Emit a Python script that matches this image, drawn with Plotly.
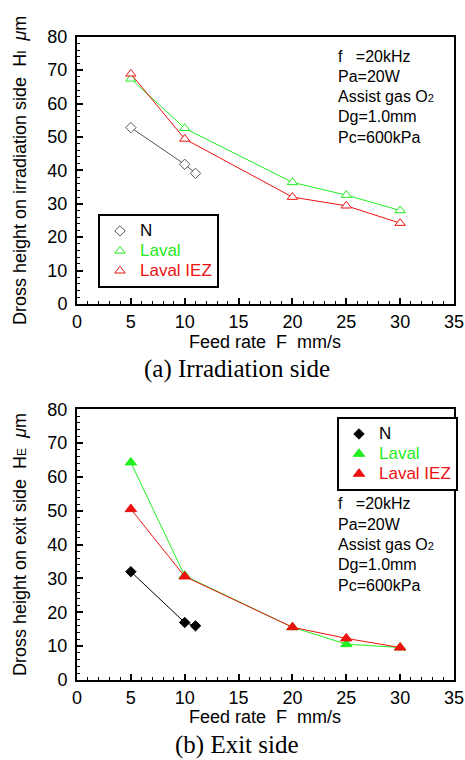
import plotly.graph_objects as go

W, H = 465, 760

# ---- data ----
feed_N = [5, 10, 11]
feed_L = [5, 10, 20, 25, 30]

irr_N = [52.8, 41.8, 39.1]
irr_Laval = [67.4, 52.6, 36.4, 32.6, 28.0]
irr_LavalIEZ = [68.9, 49.4, 32.0, 29.4, 24.2]

exit_N = [32.0, 17.0, 16.0]
exit_Laval = [64.3, 30.8, 15.6, 10.6, 9.6]
exit_LavalIEZ = [50.5, 30.6, 15.6, 12.3, 9.6]

series_names = ["N", "Laval", "Laval IEZ"]
x_ticks = [0, 5, 10, 15, 20, 25, 30, 35]
y_ticks = [0, 10, 20, 30, 40, 50, 60, 70, 80]

cond_lines = ["f\u00a0\u00a0\u00a0=20kHz", "Pa=20W",
              "Assist gas O<span style='font-size:11px'>2</span>",
              "Dg=1.0mm", "Pc=600kPa"]

C_G = "#22ee22"
C_R = "#ee1111"


def px(x):
    return x / W


def py(y):
    return 1 - y / H


fig = go.Figure()


def add_series(xs, ys, color, name, symbol, size, filled, xa, ya, legend, txtcolor):
    fig.add_trace(go.Scatter(x=xs, y=ys, mode="lines", line=dict(color=color, width=1),
                             xaxis=xa, yaxis=ya, showlegend=False, hoverinfo="skip"))
    fig.add_trace(go.Scatter(
        x=xs, y=ys, mode="markers", xaxis=xa, yaxis=ya, legend=legend,
        name=f"<span style='color:{txtcolor};font-size:17px'>{name}</span>",
        marker=dict(symbol=symbol, size=size,
                    color=color if filled else "white",
                    line=dict(color=color, width=1))))


# plot (a) open markers
add_series(feed_N, irr_N, "#555555", series_names[0], "diamond", 8, False, "x", "y", "legend", "#000")
add_series(feed_L, irr_Laval, C_G, series_names[1], "triangle-up", 9, False, "x", "y", "legend", C_G)
add_series(feed_L, irr_LavalIEZ, C_R, series_names[2], "triangle-up", 9, False, "x", "y", "legend", C_R)

# plot (b) filled markers
add_series(feed_N, exit_N, "#000000", series_names[0], "diamond", 8, True, "x2", "y2", "legend2", "#000")
add_series(feed_L, exit_Laval, C_G, series_names[1], "triangle-up", 10, True, "x2", "y2", "legend2", C_G)
add_series(feed_L, exit_LavalIEZ, C_R, series_names[2], "triangle-up", 10, True, "x2", "y2", "legend2", C_R)

font_tick = dict(family="Liberation Sans, Arial", size=18, color="black")

xdom = [px(77), px(454)]
common_x = dict(range=[0, 35], tickvals=x_ticks, ticks="inside", ticklen=6, tickwidth=1.5,
                tickcolor="black", showline=True, linecolor="black", linewidth=2, mirror=True,
                showgrid=False, zeroline=False, tickfont=font_tick, automargin=False,
                minor=dict(dtick=1, ticks="inside", ticklen=3, tickcolor="black", tickwidth=1))
common_y = dict(range=[0, 80], tickvals=y_ticks, ticks="inside", ticklen=6, tickwidth=1.5,
                tickcolor="black", showline=True, linecolor="black", linewidth=2, mirror=True,
                showgrid=False, zeroline=False, tickfont=font_tick, ticklabelstandoff=4,
                automargin=False,
                minor=dict(dtick=2, ticks="inside", ticklen=3, tickcolor="black", tickwidth=1))

legend_common = dict(font=dict(family="Liberation Sans, Arial", size=13, color="black"),
                     bordercolor="black", borderwidth=2, bgcolor="white",
                     xanchor="left", yanchor="top", tracegroupgap=0, itemwidth=30)

annotations = []
font_lbl = dict(family="Liberation Sans, Arial", size=18, color="black")
font_cap = dict(family="Liberation Serif, Times New Roman", size=25, color="black")
font_cond = dict(family="Liberation Sans, Arial", size=16, color="black")

# axis titles / captions
for (yt_text, yt_cy, xt_cy, cap_text, cap_cy) in [
    ("Dross height on irradiation side\u00a0\u00a0H<span style='font-size:12px'>I</span>\u00a0\u00a0<i>μ</i>m", 171, 342, "(a) Irradiation side", 369),
    ("Dross height on exit side\u00a0\u00a0H<span style='font-size:12px'>E</span>\u00a0\u00a0<i>μ</i>m", 545, 717, "(b) Exit side", 745),
]:
    annotations.append(dict(text=yt_text, x=px(20), y=py(yt_cy), xref="paper", yref="paper",
                            textangle=-90, showarrow=False, font=font_lbl,
                            xanchor="center", yanchor="middle"))
    annotations.append(dict(text="Feed rate\u00a0\u00a0F\u00a0\u00a0mm/s", x=px(265), y=py(xt_cy),
                            xref="paper", yref="paper", showarrow=False, font=font_lbl,
                            xanchor="center", yanchor="middle"))
    annotations.append(dict(text=cap_text, x=px(237), y=py(cap_cy), xref="paper", yref="paper",
                            showarrow=False, font=font_cap, xanchor="center", yanchor="middle"))

for top in (56, 504):
    for i, line in enumerate(cond_lines):
        annotations.append(dict(text=line, x=px(336), y=py(top + i * 20.3), xref="paper",
                                yref="paper", showarrow=False, font=font_cond,
                                xanchor="left", yanchor="middle"))

fig.update_layout(
    width=W, height=H, margin=dict(l=0, r=0, t=0, b=0, autoexpand=False),
    paper_bgcolor="white", plot_bgcolor="white",
    xaxis=dict(common_x, domain=xdom, anchor="y"),
    yaxis=dict(common_y, domain=[py(304), py(36.7)], anchor="x"),
    xaxis2=dict(common_x, domain=xdom, anchor="y2"),
    yaxis2=dict(common_y, domain=[py(680), py(409.3)], anchor="x2"),
    legend=dict(legend_common, x=px(98), y=py(214)),
    legend2=dict(legend_common, x=px(337), y=py(417)),
    annotations=annotations,
)

fig.write_html("out.html", config={"displayModeBar": False},
               post_script="document.body.style.margin='0';document.body.style.overflow='hidden';")
